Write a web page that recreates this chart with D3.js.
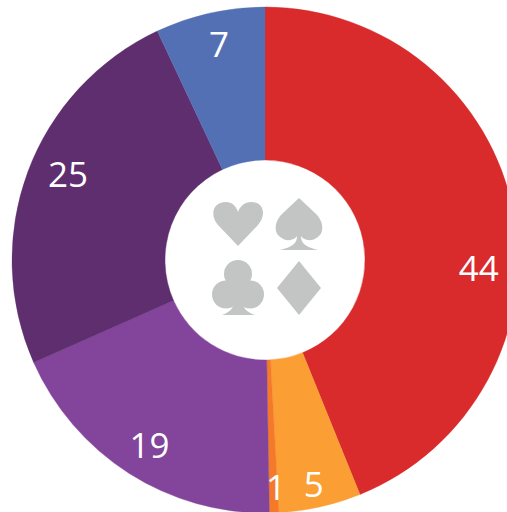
<!DOCTYPE html>
<html><head><meta charset="utf-8">
<script src="https://cdn.jsdelivr.net/npm/d3@7/dist/d3.min.js"></script>
<style>html,body{margin:0;padding:0;background:#fff;overflow:hidden}svg{display:block}</style>
</head><body><div id="c"></div>
<script>
const labels = ["44","5","1","19","25","7"];
const values = [43.9,5.25,0.6,18.65,24.65,7];
const colors = ["#d92a2c","#fb9f35","#f47a2a","#83449b","#5e2e6e","#5470b5"];
const W=507,H=512,cx=265,cy=260,R=253,r=100;
const labelPlacement = {"44":[92,214],"5":[167.7,229],"1":[177.2,227],"19":[212,218],"25":[293.6,215],"7":[348,221]};
const svg=d3.select("#c").append("svg").attr("width",W).attr("height",H);
const g=svg.append("g").attr("transform",`translate(${cx},${cy})`);
const pie=d3.pie().sort(null).value(d=>d)(values);
const arc=d3.arc().innerRadius(r).outerRadius(R);
g.selectAll("path.s").data(pie).join("path").attr("class","s").attr("d",arc).attr("fill",(d,i)=>colors[i]).attr("stroke",(d,i)=>colors[i]).attr("stroke-width",0.4);
g.selectAll("text").data(labels).join("text")
 .attr("x",d=>labelPlacement[d][1]*Math.sin(labelPlacement[d][0]*Math.PI/180))
 .attr("y",d=>-labelPlacement[d][1]*Math.cos(labelPlacement[d][0]*Math.PI/180))
 .attr("text-anchor","middle").attr("dominant-baseline","central")
 .attr("font-family","'Open Sans'").attr("font-size",35).attr("fill","#fff").text(d=>d);
const suits=svg.append("g").attr("fill","#c3c5c4");
suits.append("path").attr("d","M238 246L218 225C210 216 212 202 226 202C232 202 236 206 238 212C240 206 245 202 251 202C265 202 266 216 258 225Z");
suits.append("path").attr("d","M299 198L283 213C274 221 274 232 279 236C285 242 294 241 297 236C297 243 293 247 280 250L318 250C305 247 301 243 301 236C304 241 313 242 319 236C324 232 324 221 315 213Z");
[[238,274],[226,294.5],[250,294.5]].forEach(c=>suits.append("circle").attr("cx",c[0]).attr("cy",c[1]).attr("r",14));
suits.append("path").attr("d","M236 288L240 288C240 305 244 311 255 315L222 315C233 311 236 305 236 288Z");
suits.append("path").attr("d","M299 261L321 288L299 315L277 288Z");
</script></body></html>
